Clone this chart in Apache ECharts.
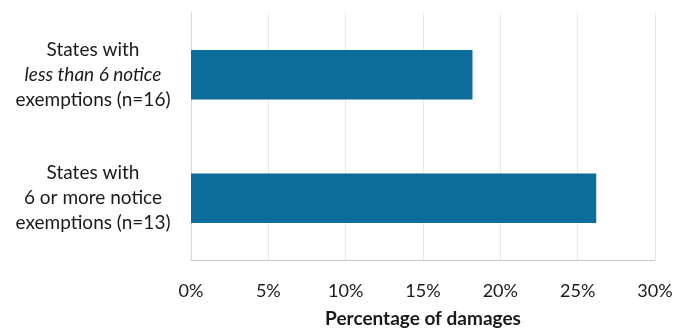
<!DOCTYPE html>
<html>
<head>
<meta charset="utf-8">
<script src="https://cdn.jsdelivr.net/npm/echarts@6/dist/echarts.min.js"></script>
<style>html,body{margin:0;padding:0;background:#fff}#c{width:678px;height:333px}</style>
</head>
<body>
<div id="c"></div>
<script>
var categories = [
  ['States with', 'less than 6 notice', 'exemptions (n=16)'],
  ['States with', '6 or more notice', 'exemptions (n=13)']
];
var italicLine = [true, false];
var values = [18.2, 26.2];
var xTicks = [0, 5, 10, 15, 20, 25, 30];
var xTitle = 'Percentage of damages';

var catNames = categories.map(function (c) { return c.join('\n'); });
var chart = echarts.init(document.getElementById('c'));
chart.setOption({
  animation: false,
  backgroundColor: '#ffffff',
  grid: { left: 191, right: 23, top: 13, bottom: 70, containLabel: false },
  xAxis: {
    type: 'value',
    min: xTicks[0],
    max: xTicks[xTicks.length - 1],
    interval: xTicks[1] - xTicks[0],
    axisLine: { show: true, lineStyle: { color: '#c8c8c8', width: 1 } },
    axisTick: { show: false },
    splitLine: { show: true, lineStyle: { color: '#e8e8e8', width: 1 } },
    axisLabel: {
      formatter: '{value}%',
      fontFamily: 'Lato',
      fontSize: 18,
      color: '#1a1a1a',
      margin: 22
    },
    name: xTitle,
    nameLocation: 'middle',
    nameGap: 49,
    nameTextStyle: { fontFamily: 'Lato', fontSize: 19, fontWeight: 'bold', color: '#1a1a1a' }
  },
  yAxis: {
    type: 'category',
    inverse: true,
    data: catNames,
    axisLine: { show: true, lineStyle: { color: '#d8d8d8', width: 1 } },
    axisTick: { show: false },
    axisLabel: {
      align: 'center',
      margin: 98,
      lineHeight: 25,
      fontFamily: 'Lato',
      fontSize: 19,
      color: '#1a1a1a',
      formatter: function (v, i) {
        var parts = v.split('\n');
        return parts.map(function (p, k) {
          return (k === 1 && italicLine[i]) ? '{it|' + p + '}' : '{n|' + p + '}';
        }).join('\n');
      },
      rich: {
        n: { fontFamily: 'Lato', fontSize: 19, color: '#1a1a1a', lineHeight: 25 },
        it: { fontFamily: 'Lato', fontSize: 19, fontStyle: 'italic', color: '#1a1a1a', lineHeight: 25 }
      }
    }
  },
  series: [{
    type: 'bar',
    data: values,
    barWidth: '40%',
    itemStyle: { color: '#0b6d99' }
  }]
});
</script>
</body>
</html>
